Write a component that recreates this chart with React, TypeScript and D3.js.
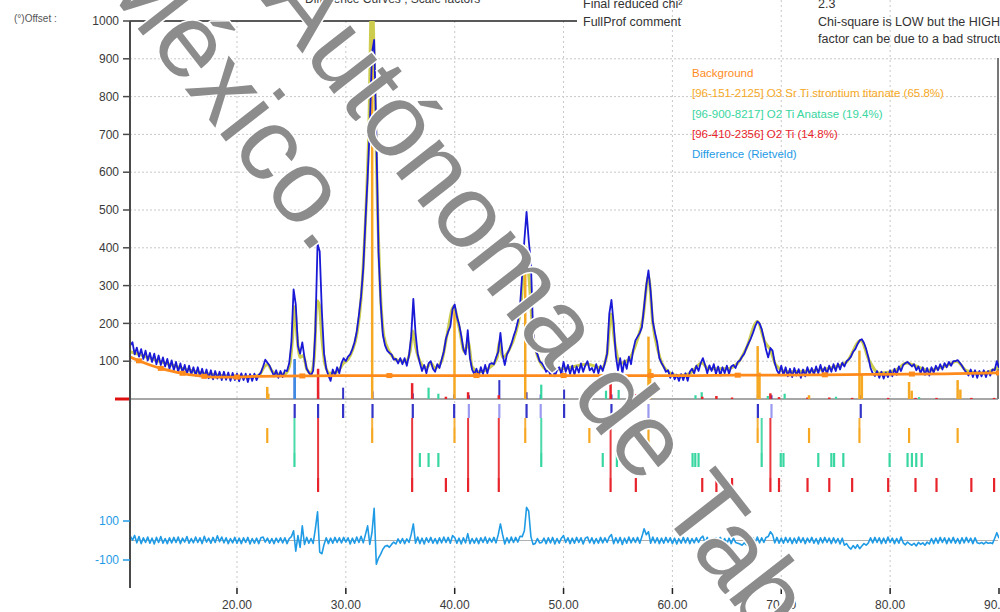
import React from "react";
import * as d3 from "d3";

// Observed counts: each row starts at the given 2θ and holds ten 0.2° steps
const observedRows: [number, number[]][] = [
  [10.2, [142, 150, 118, 136, 112, 132, 106, 128, 102, 122]],
  [12.2, [98, 120, 92, 115, 90, 110, 86, 106, 80, 102]],
  [14.2, [76, 98, 72, 94, 70, 90, 66, 88, 64, 84]],
  [16.2, [62, 84, 60, 80, 57, 78, 55, 76, 52, 74]],
  [18.2, [54, 72, 50, 72, 51, 70, 48, 69, 50, 67]],
  [20.2, [47, 68, 50, 67, 45, 66, 48, 67, 50, 64]],
  [22.2, [70, 86, 104, 96, 88, 74, 60, 76, 56, 74]],
  [24.2, [58, 76, 74, 95, 150, 290, 250, 140, 120, 150]],
  [26.2, [110, 80, 70, 62, 75, 180, 410, 390, 230, 120]],
  [28.2, [80, 62, 48, 78, 62, 84, 68, 95, 108, 100]],
  [30.2, [112, 118, 132, 150, 178, 222, 272, 345, 470, 585]],
  [32.2, [720, 915, 950, 700, 390, 255, 170, 142, 128, 122]],
  [34.2, [118, 104, 106, 94, 108, 92, 108, 88, 115, 165]],
  [36.2, [265, 175, 120, 95, 74, 90, 68, 94, 100, 80]],
  [38.2, [72, 92, 82, 104, 125, 160, 178, 192, 238, 250]],
  [40.2, [218, 198, 168, 132, 118, 182, 108, 78, 66, 80]],
  [42.2, [60, 84, 66, 90, 68, 92, 95, 92, 110, 125]],
  [44.2, [175, 118, 90, 118, 130, 145, 165, 182, 205, 245]],
  [46.2, [330, 420, 495, 420, 360, 180, 130, 118, 100, 95]],
  [48.2, [86, 72, 78, 62, 80, 60, 76, 84, 66, 98]],
  [50.2, [72, 90, 66, 88, 64, 86, 70, 94, 72, 89]],
  [52.2, [100, 76, 82, 70, 92, 68, 88, 74, 95, 120]],
  [54.2, [225, 262, 200, 115, 76, 108, 68, 102, 80, 112]],
  [56.2, [92, 130, 155, 165, 175, 190, 245, 300, 340, 285]],
  [58.2, [205, 175, 150, 108, 95, 85, 72, 76, 56, 70]],
  [60.2, [52, 64, 48, 66, 50, 68, 48, 72, 80, 68]],
  [62.2, [88, 74, 95, 108, 90, 68, 89, 74, 92, 66]],
  [64.2, [86, 62, 84, 68, 88, 66, 86, 90, 82, 98]],
  [66.2, [102, 112, 120, 135, 148, 160, 175, 192, 205, 200]],
  [68.2, [185, 160, 130, 110, 135, 128, 95, 76, 66, 88]],
  [70.2, [63, 84, 60, 80, 58, 82, 62, 79, 56, 78]],
  [72.2, [60, 84, 66, 82, 64, 86, 68, 90, 70, 84]],
  [74.2, [66, 88, 72, 92, 74, 94, 78, 96, 86, 100]],
  [76.2, [105, 112, 125, 132, 145, 155, 158, 148, 132, 110]],
  [78.2, [82, 68, 61, 74, 56, 72, 54, 70, 58, 76]],
  [80.2, [60, 80, 64, 86, 74, 90, 95, 98, 92, 86]],
  [82.2, [92, 76, 86, 68, 84, 64, 82, 62, 84, 70]],
  [84.2, [88, 76, 92, 78, 95, 84, 98, 88, 100, 100]],
  [86.2, [103, 96, 88, 78, 70, 62, 78, 58, 76, 56]],
  [88.2, [74, 60, 76, 58, 74, 62, 78, 76, 100, 82]],
];

// Rietveld difference (observed − calculated), same sampling
const differenceRows: [number, number[]][] = [
  [10.2, [22, 2, 26, -12, 20, -16, 14, -10, 18, -14]],
  [12.2, [12, -18, 16, -10, 20, -14, 10, -16, 14, -12]],
  [14.2, [16, -10, 18, -16, 12, -8, 20, -14, 10, -12]],
  [16.2, [18, -10, 14, -16, 22, -8, 12, -14, 16, -10]],
  [18.2, [24, -6, 18, -12, 14, -16, 10, -12, 16, -14]],
  [20.2, [12, -16, 14, -10, 16, -18, 10, -14, 12, -16]],
  [22.2, [14, 18, -8, 12, -14, 10, -16, 12, -10, 14]],
  [24.2, [-12, 14, -16, 10, 20, 50, -55, 25, -35, 75]],
  [26.2, [-20, 16, -14, 10, -15, 60, 147, -60, -68, -20]],
  [28.2, [14, -16, 12, -14, 16, -10, 14, -12, 16, -8]],
  [30.2, [14, -18, 12, -14, 18, -10, 22, -12, 30, 75]],
  [32.2, [-20, 40, 165, -122, -90, -70, -45, -30, -25, -35]],
  [34.2, [-20, -8, -18, 8, -14, 10, -16, 8, -10, 30]],
  [36.2, [85, -14, 18, -16, 12, -18, 14, -10, 16, -14]],
  [38.2, [10, -16, 14, -12, 18, -10, 16, -14, 25, 15]],
  [40.2, [-14, 12, -18, 14, -12, 35, -16, 10, -14, 12]],
  [42.2, [-16, 14, -10, 18, -14, 12, -8, 16, -12, 30]],
  [44.2, [85, 30, -18, 14, -12, 18, -10, 16, -8, 22]],
  [46.2, [20, 50, 170, 150, 20, -20, -15, 10, -12, -10]],
  [48.2, [12, -16, 14, -12, 16, -18, 10, -14, 12, 25]],
  [50.2, [-10, 14, -16, 12, -14, 16, -10, 14, -18, 12]],
  [52.2, [18, -12, 14, -16, 10, -14, 16, -12, 14, -10]],
  [54.2, [18, 30, -16, 14, -12, 16, -20, 12, -14, 18]],
  [56.2, [-12, 14, -10, 16, -14, 20, 60, 30, 45, -14]],
  [58.2, [18, -12, 14, -16, 12, -14, 16, -10, 14, -16]],
  [60.2, [12, -18, 10, -14, 16, -12, 14, -16, 10, -12]],
  [62.2, [14, -10, 12, 22, -12, 16, -14, 10, -16, 14]],
  [64.2, [-12, 16, -14, 10, -18, 12, -16, 14, -10, -14]],
  [66.2, [-18, -24, -12, -22, 10, -16, 14, -10, 18, -12]],
  [68.2, [14, -10, 16, 20, 45, 30, -12, 16, -14, 12]],
  [70.2, [-14, 16, -10, 14, -16, 12, -14, 18, -10, 14]],
  [72.2, [-16, 12, -10, 16, -14, 10, -18, 14, -12, 16]],
  [74.2, [-10, 12, -16, 14, -12, 10, -18, 12, -24, -16]],
  [76.2, [-34, -44, -26, -40, -22, -42, -28, -16, -24, -12]],
  [78.2, [14, -12, 16, -10, 14, -16, 12, -14, 18, -10]],
  [80.2, [12, -16, 10, -14, 18, -12, -22, -8, -18, -24]],
  [82.2, [-14, -28, -10, -20, -12, -24, -8, -18, 10, -16]],
  [84.2, [12, -14, 16, -10, 14, -16, 12, -12, 16, -14]],
  [86.2, [10, -16, 14, -12, 16, -10, 12, -16, 14, -12]],
  [88.2, [-16, -10, -18, -8, -14, -12, -16, 10, 40, 12]],
];

// Calculated profile (2θ, counts)
const calculatedProfile: [number, number][] = [
  [10.2, 125], [11, 118], [12, 108], [13, 99], [14, 90], [15, 81], [16, 74], [17, 68],
  [18, 64], [19, 61], [20, 60], [21, 59], [22, 62], [22.5, 85], [22.8, 92], [23.2, 75],
  [23.6, 66], [24.4, 66], [24.8, 85], [25.1, 160], [25.3, 245], [25.5, 170], [25.8, 110],
  [26.1, 115], [26.4, 80], [26.8, 68], [27.1, 110], [27.35, 260], [27.55, 250], [27.8, 160],
  [28.1, 90], [28.5, 68], [29.2, 72], [29.8, 95], [30.2, 105], [30.6, 128], [31.0, 170],
  [31.4, 265], [31.8, 470], [32.1, 700], [32.4, 1100], [32.6, 900], [32.9, 520], [33.2, 270],
  [33.5, 165], [34, 125], [34.8, 102], [35.5, 100], [35.9, 125], [36.15, 180], [36.4, 140],
  [36.8, 100], [37.4, 82], [37.8, 95], [38.2, 82], [38.8, 100], [39.3, 170], [39.9, 245],
  [40.4, 190], [40.9, 125], [41.25, 150], [41.6, 85], [42.2, 72], [43.3, 85], [43.9, 110],
  [44.1, 150], [44.4, 110], [45.0, 130], [45.6, 175], [46.1, 250], [46.5, 402], [46.8, 330],
  [47.2, 170], [47.8, 100], [48.5, 78], [50, 80], [52.2, 92], [53.5, 82], [54.0, 120],
  [54.35, 225], [54.7, 150], [55.2, 95], [56, 105], [56.7, 150], [57.3, 215], [57.8, 325],
  [58.2, 200], [58.7, 125], [59.4, 78], [60.5, 62], [61.6, 68], [62.7, 95], [63.3, 80],
  [65, 80], [66, 95], [66.8, 135], [67.8, 205], [68.5, 150], [69.0, 130], [69.5, 90],
  [70.5, 72], [72.5, 74], [74.5, 82], [76, 98], [77.3, 155], [78.1, 100], [79, 68],
  [80.5, 76], [81.5, 95], [82.3, 88], [83.5, 76], [85.5, 92], [86.1, 100], [87, 75],
  [88.5, 68], [89.8, 82], [90, 85],
];

// Refined background (2θ, counts)
const backgroundProfile: [number, number][] = [
  [10.2, 111], [11, 101], [12, 90], [13, 81], [14, 74], [15, 68], [16, 63], [17, 60],
  [18, 58], [20, 58], [22, 60], [26, 61], [30, 62], [34, 62], [38, 62], [42, 62],
  [46, 62], [50, 62], [54, 62], [58, 62], [62, 62], [66, 63], [70, 63], [74, 64],
  [78, 65], [82, 66], [86, 67], [90, 69],
];

// Reference-pattern sticks (2θ, scaled intensity)
const srTiO3Sticks: [number, number][] = [
  [22.78, 32], [22.88, 14], [32.42, 1100], [39.98, 240], [46.48, 400], [52.37, 18],
  [57.8, 165], [57.95, 80], [67.83, 140], [68.0, 70], [72.55, 10], [77.18, 128],
  [77.4, 64], [81.74, 45], [81.98, 22], [86.2, 50], [86.45, 25],
];
const anataseSticks: [number, number][] = [
  [37.6, 30], [38.5, 14], [47.95, 38], [53.9, 22], [55.06, 24], [62.12, 10],
  [62.69, 18], [68.76, 8], [70.31, 14], [75.03, 6], [82.66, 5],
];
const rutileSticks: [number, number][] = [
  [27.45, 80], [36.09, 42], [39.19, 6], [41.23, 18], [44.05, 10], [54.32, 45],
  [56.64, 13], [62.74, 6], [64.04, 8], [65.48, 4], [69.0, 15], [69.79, 5], [72.41, 4],
  [74.41, 4], [76.51, 3], [79.82, 3], [82.33, 3], [84.26, 3], [87.46, 3], [89.55, 3],
];
const peakListSticks: [number, number][] = [
  [25.3, 105], [27.45, 20], [29.75, 30], [32.45, 20], [36.15, 15], [39.95, 12],
  [41.3, 10], [44.1, 50], [46.6, 18], [47.9, 12], [50.05, 25], [54.4, 12], [57.8, 10],
  [67.85, 10], [69.1, 10], [77.3, 10],
];

// Peak list and phase reflection markers
const peakPositions = [25.3, 27.45, 29.75, 32.45, 36.15, 39.95, 41.3, 44.1, 46.6, 47.9, 50.05, 54.4, 57.8, 67.85, 69.1, 77.3];
const weakPeaks = [41.3, 44.1, 47.9, 57.8, 69.1];
const srTiO3Reflections = [22.78, 32.42, 39.98, 46.48, 52.37, 57.8, 67.83, 72.55, 77.18, 81.74, 86.2];
const anataseReflections = [25.28, 36.8, 37.6, 38.5, 47.95, 53.6, 54.9, 61.85, 62.1, 62.4, 68.2, 69.95, 70.2, 73.4, 74.6, 74.85, 75.7, 79.95, 81.6, 82.0, 82.4, 82.9];
const rutileReflections = [27.45, 36.09, 39.19, 41.23, 44.05, 54.32, 56.64, 62.74, 64.04, 65.48, 69.0, 69.79, 72.41, 74.41, 76.51, 79.82, 82.33, 84.26, 87.46, 89.55];
const srTiO3Matched = [32.42, 39.98, 46.48, 57.8, 67.83, 77.18];
const anataseMatched = [25.28, 47.95, 68.2];
const rutileMatched = [27.45, 36.09, 41.23, 44.05, 54.32, 69.0];

const yTicks = [100, 200, 300, 400, 500, 600, 700, 800, 900, 1000];
const xTicks = [20, 30, 40, 50, 60, 70, 80, 90];
const xTickLabels = ["20.00", "30.00", "40.00", "50.00", "60.00", "70.00", "80.00", "90.00"];
const diffTicks = [100, -100];

const legendLabels = [
  "Background",
  "[96-151-2125] O3 Sr Ti strontium titanate (65.8%)",
  "[96-900-8217] O2 Ti Anatase (19.4%)",
  "[96-410-2356] O2 Ti  (14.8%)",
  "Difference (Rietveld)",
];
const tableKeys = ["Final reduced chi²", "FullProf comment"];
const tableValues = ["2.3", "Chi-square is LOW but the HIGH R-factor", "factor can be due to a bad structural model"];

const C = {
  obs: "#1a1ad6",
  calc: "#cccc4e",
  bg: "#ff8a1c",
  sr: "#f6a823",
  an: "#38d6a0",
  ru: "#e8232b",
  diff: "#1f9be6",
  peak: "#3434c8",
  peakWeak: "#9a9af0",
  peakMain: "#3d8be2",
  axis: "#4a4a4a",
  grid: "#c8c8c8",
  text: "#3a3a3a",
};

const FONT = "'Liberation Sans', Arial, sans-serif";

function expand(rows: [number, number[]][]): [number, number][] {
  return rows.flatMap(([start, vals]) =>
    vals.map((v, j) => [Math.round((start + 0.2 * j) * 100) / 100, v] as [number, number])
  );
}

export default function App() {
  const x = d3.scaleLinear().domain([10.2, 90]).range([130.3, 999]);
  const y = d3.scaleLinear().domain([0, 1000]).range([399, 21]);
  const yd = d3.scaleLinear().domain([-100, 100]).range([560, 521]);

  const observed = expand(observedRows);
  const difference = expand(differenceRows);

  const rawLine = d3
    .line<[number, number]>()
    .x((d) => x(d[0]))
    .y((d) => y(d[1]));
  const smoothLine = d3
    .line<[number, number]>()
    .x((d) => x(d[0]))
    .y((d) => y(d[1]))
    .curve(d3.curveMonotoneX);
  const diffLine = d3
    .line<[number, number]>()
    .x((d) => x(d[0]))
    .y((d) => yd(d[1]));

  const rows = {
    peak: [404, 418],
    sr: [428, 443],
    an: [453, 467],
    ru: [478, 492],
  };

  const sticks = (data: [number, number][], color: string, w: number, key: string) =>
    data.map(([t, v], i) => (
      <line
        key={`${key}${i}`}
        x1={x(t)}
        x2={x(t)}
        y1={y(0)}
        y2={Math.max(y(v), 21)}
        stroke={color}
        strokeWidth={w}
      />
    ));

  const tickRow = (
    positions: number[],
    matched: number[],
    row: number[],
    color: string,
    key: string
  ) => (
    <g key={key}>
      {matched.map((t, i) => (
        <line key={`m${i}`} x1={x(t)} x2={x(t)} y1={rows.peak[1]} y2={row[0]} stroke={color} strokeWidth={2} opacity={0.9} />
      ))}
      {positions.map((t, i) => (
        <line key={`t${i}`} x1={x(t)} x2={x(t)} y1={row[0]} y2={row[1]} stroke={color} strokeWidth={2.2} />
      ))}
    </g>
  );

  return (
    <svg
      width={1000}
      height={612}
      viewBox="0 0 1000 612"
      style={{ position: "fixed", left: 0, top: 0, background: "#fff" }}
      fontFamily={FONT}
    >
      <defs>
        <clipPath id="plotClip">
          <rect x={130} y={21} width={869} height={379} />
        </clipPath>
        <clipPath id="diffClip">
          <rect x={130} y={495} width={869} height={93} />
        </clipPath>
      </defs>
      <rect x={0} y={0} width={1000} height={612} fill="#fff" />

      {/* header fragments */}
      <text x={305} y={3} fontSize={12} fill={C.text}>Difference Curves ; Scale factors</text>
      <text x={14} y={22} fontSize={10} fill="#555">(°)Offset :</text>

      {/* grid */}
      {yTicks.slice(0, -1).map((t) => (
        <line key={`gy${t}`} x1={130} x2={998} y1={y(t)} y2={y(t)} stroke={C.grid} strokeDasharray="2,2" />
      ))}
      {xTicks.slice(0, -1).map((t) => (
        <line key={`gx${t}`} x1={x(t)} x2={x(t)} y1={x(t) > 575 ? 0 : 21} y2={588} stroke={C.grid} strokeDasharray="2,3" />
      ))}

      {/* frame pieces */}
      <line x1={130} x2={577} y1={21} y2={21} stroke="#222" strokeWidth={1.5} />
      <line x1={998} x2={998} y1={58} y2={399} stroke={C.axis} strokeWidth={1.5} />
      <line x1={130} x2={998} y1={y(0)} y2={y(0)} stroke="#8a8a8a" strokeWidth={1.5} />
      <line x1={115} x2={130} y1={y(0)} y2={y(0)} stroke="#e01010" strokeWidth={3} />

      <g clipPath="url(#plotClip)">
        {/* reference sticks */}
        {sticks(peakListSticks, C.peak, 2, "pk")}
        {sticks([peakListSticks[0]], C.peakMain, 2.5, "pkm")}
        {sticks(anataseSticks, C.an, 2.2, "an")}
        {sticks(rutileSticks, C.ru, 2.5, "ru")}
        {sticks(srTiO3Sticks, C.sr, 2.5, "sr")}

        {/* calculated under observed, background on top */}
        <path d={smoothLine(calculatedProfile) ?? ""} fill="none" stroke={C.calc} strokeWidth={3} />
        <path d={rawLine(observed) ?? ""} fill="none" stroke={C.obs} strokeWidth={1.8} strokeLinejoin="round" />
        <path d={smoothLine(backgroundProfile) ?? ""} fill="none" stroke={C.bg} strokeWidth={2.8} />
        {backgroundProfile.filter((_, i) => i % 2 === 1).map(([t, v], i) => (
          <rect key={`bm${i}`} x={x(t) - 3} y={y(v) - 2.5} width={6} height={5} fill={C.bg} />
        ))}
      </g>

      {/* peak list and phase reflection rows */}
      {tickRow(srTiO3Reflections, srTiO3Matched, rows.sr, C.sr, "rsr")}
      {tickRow(anataseReflections, anataseMatched, rows.an, C.an, "ran")}
      {tickRow(rutileReflections, rutileMatched, rows.ru, C.ru, "rru")}
      {peakPositions.map((t, i) => (
        <line
          key={`pp${i}`}
          x1={x(t)}
          x2={x(t)}
          y1={rows.peak[0]}
          y2={rows.peak[1]}
          stroke={weakPeaks.includes(t) ? C.peakWeak : C.peak}
          strokeWidth={2.2}
        />
      ))}

      {/* difference curve */}
      <line x1={130} x2={998} y1={yd(0)} y2={yd(0)} stroke="#b0b0b0" strokeWidth={1} />
      <g clipPath="url(#diffClip)">
        <path d={diffLine(difference) ?? ""} fill="none" stroke={C.diff} strokeWidth={1.6} strokeLinejoin="round" />
      </g>

      {/* left axis */}
      <line x1={130} x2={130} y1={21} y2={588} stroke={C.axis} strokeWidth={2} />
      {yTicks.map((t) => (
        <g key={`yt${t}`}>
          <line x1={123} x2={130} y1={y(t)} y2={y(t)} stroke={C.axis} strokeWidth={1.5} />
          <text x={119} y={y(t)} dy="0.35em" textAnchor="end" fontSize={12} fill={C.text}>
            {t}
          </text>
        </g>
      ))}
      {diffTicks.map((t) => (
        <g key={`dt${t}`}>
          <line x1={123} x2={130} y1={yd(t)} y2={yd(t)} stroke={C.diff} strokeWidth={1.5} />
          <text x={119} y={yd(t)} dy="0.35em" textAnchor="end" fontSize={12} fill={C.diff}>
            {t}
          </text>
        </g>
      ))}

      {/* bottom axis ticks and labels */}
      {xTicks.map((t, i) => (
        <g key={`xt${t}`}>
          <line x1={x(t)} x2={x(t)} y1={588} y2={594} stroke="#222" strokeWidth={1.5} />
          <text x={x(t)} y={609} textAnchor="middle" fontSize={12} fill={C.text}>
            {xTickLabels[i]}
          </text>
        </g>
      ))}

      {/* legend */}
      {legendLabels.map((s, i) => (
        <text key={`lg${i}`} x={692} y={77 + i * 20.3} fontSize={11.5} fill={[C.bg, C.sr, C.an, C.ru, C.diff][i]}>
          {s}
        </text>
      ))}

      {/* refinement summary */}
      {tableKeys.map((s, i) => (
        <text key={`tk${i}`} x={583} y={8 + i * 18} fontSize={12.5} fill="#333">
          {s}
        </text>
      ))}
      {tableValues.map((s, i) => (
        <text key={`tv${i}`} x={818} y={8 + i * 17.5} fontSize={12.5} fill="#333">
          {s}
        </text>
      ))}

      {/* institutional watermark */}
      <g fontFamily={FONT} fontSize={104} fill="#8c8c8c" stroke="#fff" strokeWidth={3} style={{ paintOrder: "stroke" }}>
        <text transform="translate(260,-1) rotate(52)">Autónoma de Tabasco</text>
        <text transform="translate(95,-26) rotate(52)">México.</text>
      </g>
    </svg>
  );
}
